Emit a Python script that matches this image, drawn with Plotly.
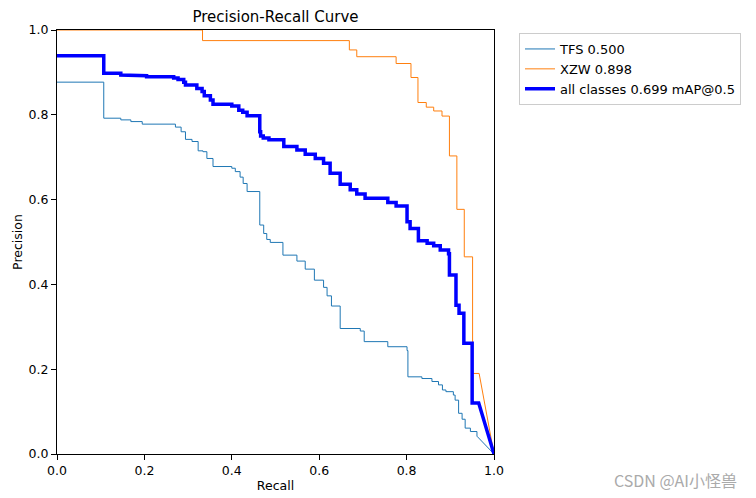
import plotly.graph_objects as go

# Step breakpoints: (recall where precision changes, new precision)
tfs_recall = [0.0, 0.107, 0.146, 0.169, 0.195, 0.271, 0.284, 0.294, 0.309, 0.323, 0.334, 0.343,
              0.357, 0.400, 0.408, 0.419, 0.426, 0.435, 0.464, 0.473, 0.480, 0.488, 0.517, 0.549,
              0.568, 0.589, 0.610, 0.618, 0.628, 0.648, 0.694, 0.703, 0.757, 0.801, 0.803, 0.835,
              0.858, 0.873, 0.882, 0.890, 0.907, 0.911, 0.919, 0.927, 0.934, 0.946, 0.961]
tfs_precision = [0.877, 0.792, 0.788, 0.784, 0.778, 0.771, 0.760, 0.742, 0.737, 0.715, 0.713, 0.697,
                 0.678, 0.674, 0.666, 0.653, 0.638, 0.619, 0.540, 0.520, 0.506, 0.499, 0.469, 0.455,
                 0.436, 0.410, 0.393, 0.373, 0.349, 0.296, 0.290, 0.265, 0.253, 0.244, 0.182, 0.178,
                 0.171, 0.163, 0.151, 0.147, 0.139, 0.127, 0.096, 0.082, 0.061, 0.053, 0.042]

xzw_recall = [0.0, 0.333, 0.669, 0.686, 0.776, 0.810, 0.826, 0.845, 0.862, 0.881, 0.898, 0.915,
              0.932, 0.951]
xzw_precision = [1.0, 0.975, 0.953, 0.937, 0.921, 0.888, 0.829, 0.818, 0.809, 0.797, 0.703, 0.577,
                 0.465, 0.190]
xzw_step_end = 0.966

all_recall = [0.0, 0.107, 0.146, 0.175, 0.205, 0.267, 0.277, 0.290, 0.294, 0.320, 0.332, 0.337,
              0.351, 0.357, 0.400, 0.416, 0.425, 0.435, 0.464, 0.466, 0.472, 0.485, 0.519, 0.549,
              0.568, 0.591, 0.610, 0.625, 0.648, 0.671, 0.686, 0.705, 0.757, 0.776, 0.801, 0.808,
              0.827, 0.847, 0.862, 0.877, 0.896, 0.898, 0.913, 0.920, 0.931, 0.950]
all_precision = [0.939, 0.898, 0.894, 0.892, 0.890, 0.887, 0.883, 0.877, 0.870, 0.862, 0.855, 0.845,
                 0.835, 0.825, 0.821, 0.811, 0.806, 0.798, 0.760, 0.750, 0.745, 0.741, 0.725, 0.717,
                 0.707, 0.697, 0.686, 0.662, 0.636, 0.623, 0.613, 0.603, 0.593, 0.585, 0.548, 0.532,
                 0.503, 0.497, 0.491, 0.481, 0.472, 0.422, 0.351, 0.332, 0.261, 0.120]
all_step_end = 0.965

series_names = ["TFS 0.500", "XZW 0.898", "all classes 0.699 mAP@0.5"]
tick_vals = [0.0, 0.2, 0.4, 0.6, 0.8, 1.0]
tick_text = ["0.0", "0.2", "0.4", "0.6", "0.8", "1.0"]


def step_path(rx, py, last_x):
    xs, ys = [], []
    for i, (x, y) in enumerate(zip(rx, py)):
        if i > 0:
            xs.append(x)
            ys.append(py[i - 1])
        xs.append(x)
        ys.append(y)
    xs.append(last_x)
    ys.append(py[-1])
    xs.append(1.0)
    ys.append(0.0)
    return xs, ys


fig = go.Figure()
x1, y1 = step_path(tfs_recall, tfs_precision, tfs_recall[-1])
fig.add_trace(go.Scatter(x=x1, y=y1, mode="lines", name=series_names[0],
                         line=dict(color="#1f77b4", width=1)))
x2, y2 = step_path(xzw_recall, xzw_precision, xzw_step_end)
fig.add_trace(go.Scatter(x=x2, y=y2, mode="lines", name=series_names[1],
                         line=dict(color="#ff7f0e", width=1)))
x3, y3 = step_path(all_recall, all_precision, all_step_end)
fig.add_trace(go.Scatter(x=x3, y=y3, mode="lines", name=series_names[2],
                         line=dict(color="blue", width=3.5)))

font = "DejaVu Sans, sans-serif"
L, R, T, B = 57, 494, 30, 454
W, H = 756, 498
PW, PH = R - L, B - T

axis_common = dict(range=[0, 1], tickvals=tick_vals, ticktext=tick_text, showline=True,
                   linecolor="black", linewidth=1, mirror=True, ticks="outside", ticklen=5,
                   tickcolor="black", showgrid=False, zeroline=False, automargin=False,
                   tickfont=dict(family=font, size=12.5, color="black"))
fig.update_xaxes(**axis_common, title=dict(text="Recall", font=dict(family=font, size=12.5, color="black"), standoff=4))
fig.update_yaxes(**axis_common, title=dict(text="Precision", font=dict(family=font, size=12.5, color="black"), standoff=3))

fig.update_layout(
    width=W, height=H,
    margin=dict(l=L, r=W - R, t=T, b=H - B),
    paper_bgcolor="white", plot_bgcolor="white",
    title=dict(text="Precision-Recall Curve", x=(L + R) / 2 / W, xanchor="center",
               y=1 - 17 / H, yanchor="middle", font=dict(family=font, size=15, color="black")),
    legend=dict(x=(519 - L) / PW, y=1 - (33 - T) / PH, xanchor="left", yanchor="top",
                bordercolor="#cccccc", borderwidth=1, bgcolor="white", itemwidth=30,
                font=dict(family=font, size=13, color="black"), tracegroupgap=0),
    showlegend=True,
    annotations=[dict(text="CSDN @AI小怪兽", xref="paper", yref="paper",
                      x=(739 - L) / PW, y=-(480 - B) / PH,
                      xanchor="right", yanchor="middle", showarrow=False,
                      font=dict(family="Noto Sans CJK SC, sans-serif", size=16, color="#aaaaaa"))],
)

fig.write_html("out.html", config={"displayModeBar": False},
               post_script="document.body.style.margin='0';document.body.style.overflow='hidden';")
